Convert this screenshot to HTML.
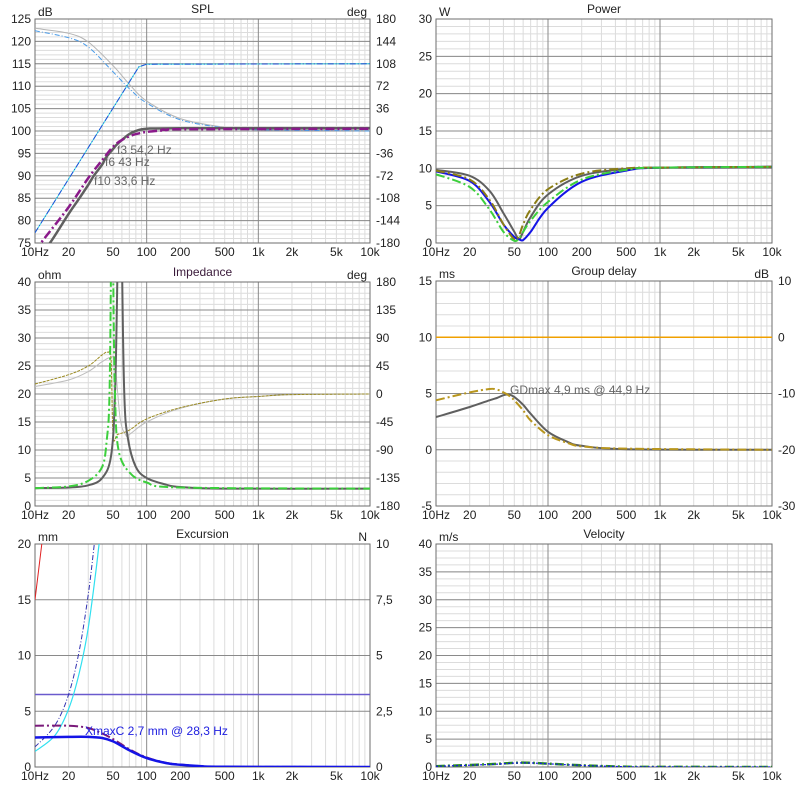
<!DOCTYPE html>
<html><head><meta charset="utf-8"><style>
html,body{margin:0;padding:0;background:#fff;}
svg{display:block;font-family:"Liberation Sans",Arial,sans-serif;font-size:12px;}
</style></head><body>
<svg id="chart" width="806" height="788" viewBox="0 0 806 788" xmlns="http://www.w3.org/2000/svg"></svg>
<script>
// ---------- data ----------
const freqTicks = [10,20,50,100,200,500,1000,2000,5000,10000];
const freqTickLabels = ["10Hz","20","50","100","200","500","1k","2k","5k","10k"];

// SPL panel
const splFreq = [10,13.6,20,25,30,33.6,40,43,50,54.2,60,70,80,100,200,10000];
const splGray = [71,75,81.5,85,88,90,92.5,94,96,97,98,99.3,100,100.5,100.6,100.6];
const splPurpleFreq = [10,11.3,20,30,40,50,60,70,80,100,150,200,10000];
const splPurple = [73,75,83,89.5,93.5,96.5,98,98.8,99.3,99.8,100.2,100.4,100.5];
const splBlueFreq = [10,85,100,10000];
const splBlue = [77.3,114.3,114.9,115];
const phaseFreq = [10,20,30,50,70,100,200,500,1000,10000];
const splPhaseGray = [165,157,143,105,75,48,20,6,2,1];
const splPhaseBlue = [161,150,135,95,68,45,18,5,2,0];

// Power panel
const pwrFreq = [10,20,30,40,50,55,60,70,100,200,500,1000,10000];
const pwrGray = [9.8,9,7,4,1.5,0.5,1.5,3.5,6.5,9,9.9,10.1,10.2];
const pwrBlue = [9.6,8.3,5.5,2.5,0.8,0.5,0.4,1.5,4.7,8.2,9.7,10.1,10.2];
const pwrOlive = [9.7,8.5,5.8,2.5,0.5,1,2.5,4.5,7.2,9.3,10,10.1,10.2];
const pwrGreen = [9.2,7.5,4.5,1.5,0.3,0.6,1.5,3,5.5,8.5,9.8,10.1,10.2];

// Impedance panel
const impGrayFreq = [10,20,30,40,48,52,55,57.5,60,63,68,80,100,150,200,500,10000];
const impGray = [3.2,3.3,3.7,5,9,20,45,80,45,20,12,7,5,3.8,3.4,3.1,3.1];
const impGreenFreq = [10,20,30,40,44,46.5,48,49,50,52,56,70,100,200,10000];
const impGreen = [3.2,3.5,4.5,7,12,20,45,80,45,20,10,6,4.2,3.3,3.1];
const impPhaseOliveFreq = [10,20,30,40,45,48,50,55,70,100,200,500,1000,2000,10000];
const impPhaseOlive = [16,31,45,63,67,55,-67,-65,-58,-40,-22,-8,-4,-1,0];
const impPhaseGrayFreq = [10,20,30,40,48,52,58,65,70,100,200,500,1000,2000,10000];
const impPhaseGray = [12,22.5,36,52,59,50,-40,-66,-65,-45,-23,-8,-4,-1,0];

// Group delay panel
const gdFreq = [10,20,30,35,40,45,50,60,70,100,150,200,500,10000];
const gdGray = [2.9,3.8,4.4,4.6,4.85,4.9,4.7,4,3.2,1.6,0.7,0.35,0.05,0];
const gdOlive = [4.4,5.1,5.4,5.35,5.1,4.8,4.4,3.5,2.6,1.3,0.6,0.3,0.1,0];
const gdOrangeDb = 0;

// Excursion panel
const excFreq = [10,20,30,40,50,70,100,150,200,300,500,10000];
const excBlue = [2.65,2.7,2.7,2.6,2.3,1.5,0.8,0.35,0.2,0.08,0.02,0];
const excPurple = [3.7,3.7,3.5,3.0,2.5,1.6,0.85,0.38,0.22,0.09,0.02,0];
const excDashFreq = [10,15,20,25,30,34,36];
const excDash = [1.8,3.7,6.5,10.5,15.5,20,22];
const excCyanFreq = [10,15,20,25,30,35,37.5,40];
const excCyan = [1.4,2.8,5.2,8.5,12.5,17.5,20,22];
const excRedFreq = [10,11.5,12];
const excRed = [15,20,21.5];
const excXmax = 6.5;

// Velocity panel
const velFreq = [10,30,50,70,100,200,500,1000,10000];
const velGreen = [0.15,0.5,0.75,0.75,0.6,0.3,0.05,0.02,0];
const velBlue = [0.12,0.45,0.7,0.72,0.58,0.28,0.05,0.02,0];

// ---------- drawing ----------
const NS = "http://www.w3.org/2000/svg";
const svg = document.getElementById("chart");
function mk(tag, attrs, parent){
  const e = document.createElementNS(NS, tag);
  for (const k in attrs) e.setAttribute(k, attrs[k]);
  (parent||svg).appendChild(e);
  return e;
}
function panel(cfg){
  const g = mk("g",{});
  
  
  const X = f => cfg.x0 + (cfg.x1-cfg.x0)*Math.log10(f/10)/3;
  const Y = v => cfg.y1 - (cfg.y1-cfg.y0)*(v-cfg.min)/(cfg.max-cfg.min);
  const YR = cfg.rmin!==undefined ? (v => cfg.y1 - (cfg.y1-cfg.y0)*(v-cfg.rmin)/(cfg.rmax-cfg.rmin)) : null;
  if (cfg.minorStep){
    for (let v=cfg.min; v<=cfg.max+1e-9; v+=cfg.minorStep){
      const y=Y(v);
      mk("line",{x1:cfg.x0,x2:cfg.x1,y1:y,y2:y,stroke:"#dcdcdc","stroke-width":1},g);
    }
  }
  for (let d=10; d<10000; d*=10){
    for (let m=2;m<=9;m++){
      const x=X(d*m);
      mk("line",{x1:x,x2:x,y1:cfg.y0,y2:cfg.y1,stroke:"#dcdcdc","stroke-width":1},g);
    }
  }
  const ticks = [];
  for (let v=cfg.min; v<=cfg.max+1e-9; v+=cfg.step) ticks.push(v);
  ticks.forEach((v,i)=>{
    const y=Y(v);
    mk("line",{x1:cfg.x0,x2:cfg.x1,y1:y,y2:y,stroke:"#8a8a8a","stroke-width":1},g);
    const t = mk("text",{x:cfg.x0-4,y:y+4,"text-anchor":"end",fill:"#222"},g);
    
    
    t.textContent = String(v);
  });
  if (cfg.rightLabels){
    cfg.rightLabels.forEach((s,i)=>{
      const y = cfg.y1 - (cfg.y1-cfg.y0)*i/(cfg.rightLabels.length-1);
      const t = mk("text",{x:cfg.x1+6,y:y+4,"text-anchor":"start",fill:"#222"},g);
      
      
      t.textContent = s;
    });
  }
  [100,1000].forEach(f=>{
    const x=X(f);
    mk("line",{x1:x,x2:x,y1:cfg.y0,y2:cfg.y1,stroke:"#8a8a8a","stroke-width":1},g);
  });
  freqTicks.forEach((f,i)=>{
    const x=X(f);
    const t = mk("text",{x:x,y:cfg.y1+13,"text-anchor":"middle",fill:"#222"},g);
    
    
    t.textContent = freqTickLabels[i];
  });
  mk("rect",{x:cfg.x0,y:cfg.y0,width:cfg.x1-cfg.x0,height:cfg.y1-cfg.y0,fill:"none",stroke:"#6e6e6e","stroke-width":1},g);
  const title = mk("text",{x:(cfg.x0+cfg.x1)/2,y:cfg.y0-6,"text-anchor":"middle",fill:cfg.titleColor||"#222"},g);
  
  
  title.textContent = cfg.title;
  const ul = mk("text",{x:cfg.x0+3,y:cfg.y0-3,fill:"#222"},g);
  
  
  ul.textContent = cfg.unitL;
  if (cfg.unitR){
    const ur = mk("text",{x:cfg.x1-3,y:cfg.y0-3,"text-anchor":"end",fill:"#222"},g);
    
    
    ur.textContent = cfg.unitR;
  }
  const cid = "clip-"+cfg.name;
  const cp = mk("clipPath",{id:cid},g);
  mk("rect",{x:cfg.x0,y:cfg.y0,width:cfg.x1-cfg.x0,height:cfg.y1-cfg.y0},cp);
  const sg = mk("g",{"clip-path":"url(#"+cid+")"},g);
  return {g, sg, X, Y, YR};
}
function smoothPath(pts){
  let d = "M"+pts[0][0].toFixed(1)+","+pts[0][1].toFixed(1);
  for (let i=0;i<pts.length-1;i++){
    const p0=pts[Math.max(0,i-1)], p1=pts[i], p2=pts[i+1], p3=pts[Math.min(pts.length-1,i+2)];
    const c1=[p1[0]+(p2[0]-p0[0])/6, p1[1]+(p2[1]-p0[1])/6];
    const c2=[p2[0]-(p3[0]-p1[0])/6, p2[1]-(p3[1]-p1[1])/6];
    d += " C"+c1[0].toFixed(1)+","+c1[1].toFixed(1)+" "+c2[0].toFixed(1)+","+c2[1].toFixed(1)+" "+p2[0].toFixed(1)+","+p2[1].toFixed(1);
  }
  return d;
}
function series(P, freqs, vals, style, name, right, smooth){
  const Yf = right ? P.YR : P.Y;
  const pts = freqs.map((f,i)=>[P.X(f), Yf(vals[i])]);
  const d = smooth===false ? "M"+pts.map(p=>p[0].toFixed(1)+","+p[1].toFixed(1)).join(" L") : smoothPath(pts);
  const p = mk("path",Object.assign({d:d,fill:"none","stroke-linejoin":"round"},style),P.sg);
  
  
  return p;
}
function label(P, x, y, txt, color, name){
  const t = mk("text",{x:x,y:y,fill:color},P.g);
  
  
  t.textContent = txt;
}
const DD = "9,3,2,3";

// SPL
const spl = panel({name:"spl-panel",title:"SPL",unitL:"dB",unitR:"deg",x0:35,x1:370,y0:19,y1:243,min:75,max:125,step:5,minorStep:1,
  rmin:-180,rmax:180,rightLabels:["-180","-144","-108","-72","-36","0","36","72","108","144","180"]});
series(spl, phaseFreq, splPhaseGray, {stroke:"#b4b4b4","stroke-width":1}, "spl-phase-gray", true);
series(spl, phaseFreq, splPhaseBlue, {stroke:"#4a9be8","stroke-width":1,"stroke-dasharray":"5,2,1,2"}, "spl-phase-blue", true);
series(spl, splBlueFreq, splBlue, {stroke:"#40e0e0","stroke-width":1}, "spl-cyan-line", false, false);
series(spl, splBlueFreq, splBlue, {stroke:"#1f4fd8","stroke-width":1,"stroke-dasharray":"6,2,1,2"}, "spl-blue-line", false, false);
series(spl, splFreq, splGray, {stroke:"#5f5f5f","stroke-width":2.5}, "spl-gray-curve");
series(spl, splPurpleFreq, splPurple, {stroke:"#8a1a8a","stroke-width":2.5,"stroke-dasharray":DD}, "spl-purple-curve");
label(spl,117,154,"f3 54,2 Hz","#666","f3-label");
label(spl,105,166,"f6 43 Hz","#666","f6-label");
label(spl,94,185,"f10 33,6 Hz","#666","f10-label");

// Power
const pwr = panel({name:"power-panel",title:"Power",unitL:"W",x0:436,x1:772,y0:19,y1:243,min:0,max:30,step:5,minorStep:1});
series(pwr, pwrFreq, pwrGray, {stroke:"#5f5f5f","stroke-width":2}, "power-gray-curve");
series(pwr, pwrFreq, pwrBlue, {stroke:"#1414e6","stroke-width":2}, "power-blue-curve");
series(pwr, pwrFreq, pwrOlive, {stroke:"#8b7d14","stroke-width":2,"stroke-dasharray":DD}, "power-olive-curve");
series(pwr, pwrFreq, pwrGreen, {stroke:"#3ccf3c","stroke-width":2,"stroke-dasharray":DD}, "power-green-curve");

// Impedance
const imp = panel({name:"impedance-panel",title:"Impedance",titleColor:"#3a1a3a",unitL:"ohm",unitR:"deg",x0:35,x1:370,y0:282,y1:506,min:0,max:40,step:5,minorStep:1,
  rmin:-180,rmax:180,rightLabels:["-180","-135","-90","-45","0","45","90","135","180"]});
series(imp, impPhaseGrayFreq, impPhaseGray, {stroke:"#bdbdbd","stroke-width":1}, "impedance-phase-gray", true);
series(imp, impPhaseOliveFreq, impPhaseOlive, {stroke:"#9a8a20","stroke-width":1,"stroke-dasharray":"3,1"}, "impedance-phase-olive", true);
series(imp, impGrayFreq, impGray, {stroke:"#5f5f5f","stroke-width":2}, "impedance-gray-curve");
series(imp, impGreenFreq, impGreen, {stroke:"#3ccf3c","stroke-width":2,"stroke-dasharray":DD}, "impedance-green-curve");

// Group delay
const gd = panel({name:"group-delay-panel",title:"Group delay",unitL:"ms",unitR:"dB",x0:436,x1:772,y0:281,y1:506,min:-5,max:15,step:5,minorStep:1,
  rmin:-30,rmax:10,rightLabels:["-30","-20","-10","0","10"]});
series(gd, [10,10000], [gdOrangeDb,gdOrangeDb], {stroke:"#f0a000","stroke-width":1.5}, "group-delay-orange-line", true, false);
series(gd, gdFreq, gdGray, {stroke:"#5f5f5f","stroke-width":2}, "group-delay-gray-curve");
series(gd, gdFreq, gdOlive, {stroke:"#b8961e","stroke-width":2,"stroke-dasharray":DD}, "group-delay-olive-curve");
label(gd,510,394,"GDmax 4,9 ms  @ 44,9 Hz","#666","gdmax-label");

// Excursion
const exc = panel({name:"excursion-panel",title:"Excursion",unitL:"mm",unitR:"N",x0:35,x1:370,y0:544,y1:767,min:0,max:20,step:5,
  rmin:0,rmax:10,rightLabels:["0","2,5","5","7,5","10"]});
series(exc, [10,10000], [excXmax,excXmax], {stroke:"#6a5acd","stroke-width":1.5}, "xmax-line", false, false);
series(exc, excRedFreq, excRed, {stroke:"#e02020","stroke-width":1}, "excursion-red-curve", false, false);
series(exc, excCyanFreq, excCyan, {stroke:"#30e0f0","stroke-width":1.2}, "excursion-cyan-curve");
series(exc, excDashFreq, excDash, {stroke:"#3030b0","stroke-width":1,"stroke-dasharray":"5,2,1,2"}, "excursion-dash-curve");
series(exc, excFreq, excPurple, {stroke:"#7a1a7a","stroke-width":2,"stroke-dasharray":DD}, "excursion-purple-curve");
series(exc, excFreq, excBlue, {stroke:"#1414e6","stroke-width":2.5}, "excursion-blue-curve");
label(exc,85,735,"XmaxC 2,7 mm  @ 28,3 Hz","#2020e0","xmaxc-label");

// Velocity
const vel = panel({name:"velocity-panel",title:"Velocity",unitL:"m/s",x0:436,x1:772,y0:544,y1:767,min:0,max:40,step:5,minorStep:1.25});
series(vel, velFreq, velGreen, {stroke:"#2a8a2a","stroke-width":2.5,"stroke-dasharray":DD}, "velocity-green-curve");
series(vel, velFreq, velBlue, {stroke:"#1414e6","stroke-width":1.2,"stroke-dasharray":"2,2"}, "velocity-blue-curve");
</script>
</body></html>
